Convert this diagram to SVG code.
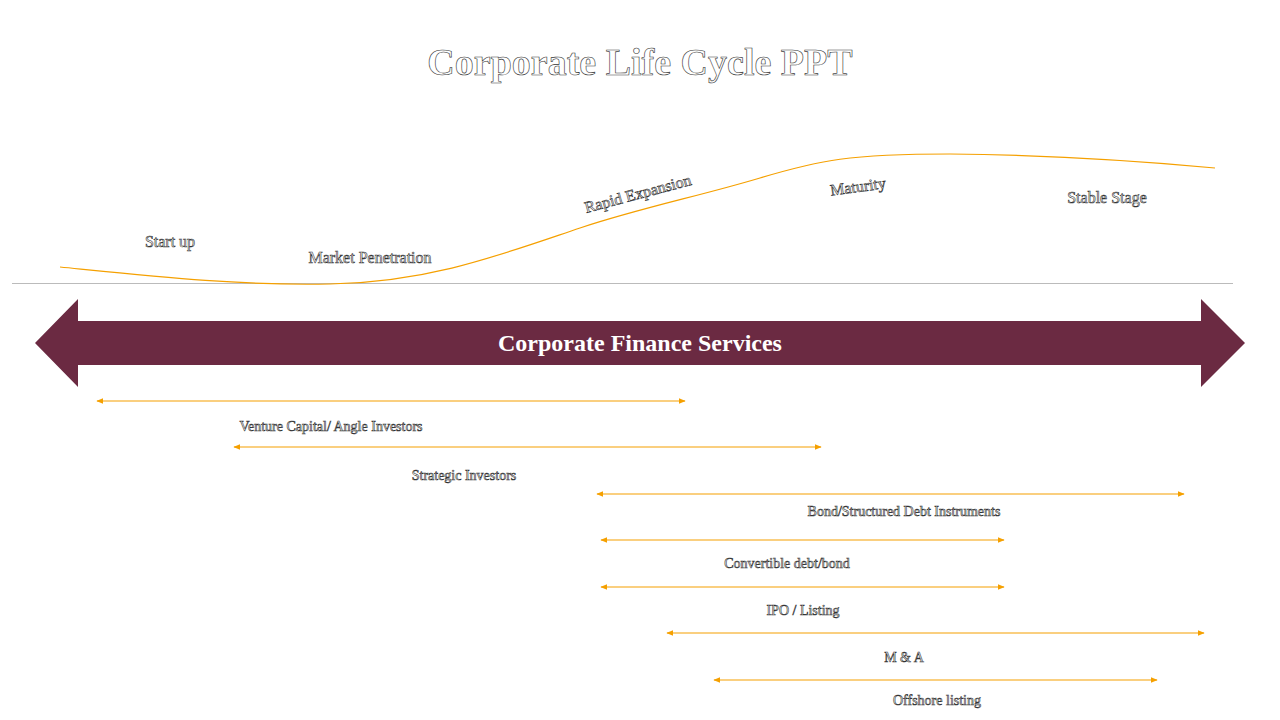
<svg xmlns="http://www.w3.org/2000/svg" width="1280" height="720" viewBox="0 0 1280 720">
<defs>
<marker id="ah" viewBox="0 0 10 10" refX="9" refY="5" markerWidth="7" markerHeight="7" orient="auto-start-reverse" markerUnits="userSpaceOnUse"><path d="M0,1 L10,5 L0,9 z" fill="#F5A000"/></marker>
<style>
.o{font-family:"Liberation Serif","DejaVu Serif",serif;fill:#fff;stroke:#333;stroke-width:0.6;text-anchor:middle}
.s{font-size:16px}
.c{stroke:#F5A000;stroke-width:1.2;fill:none}
</style>
</defs>
<rect width="1280" height="720" fill="#fff"/>
<text class="o" x="640" y="75" font-size="38" font-weight="bold" stroke-width="0.9">Corporate Life Cycle PPT</text>
<line x1="12" y1="283.5" x2="1233" y2="283.5" stroke="#BBBBBB" stroke-width="1"/>
<path class="c" d="M60,267 C150,276 240,286 330,284 C430,282 500,255 580,228 C640,208 700,196 760,178 C820,160 850,154 950,154 C1050,155 1150,162 1215,168"/>
<g id="n-startup"><text class="o s" x="170" y="247">Start up</text></g>
<g id="n-market"><text class="o s" x="370" y="263">Market Penetration</text></g>
<g id="n-rapid"><text class="o s" x="638" y="199" transform="rotate(-15 638 194)">Rapid Expansion</text></g>
<g id="n-maturity"><text class="o s" x="858" y="192" transform="rotate(-8 858 187)">Maturity</text></g>
<g id="n-stable"><text class="o s" x="1107" y="203">Stable Stage</text></g>
<g id="n-cfs">
<polygon points="35,343 78,299 78,321 1201,321 1201,299 1245,343 1201,387 1201,365 78,365 78,387" fill="#6B2A42"/>
<text x="640" y="351" font-family="Liberation Serif,serif" font-size="24" font-weight="bold" fill="#fff" text-anchor="middle">Corporate Finance Services</text>
</g>
<g id="connectors">
<line class="c" x1="97" y1="401" x2="685" y2="401" marker-start="url(#ah)" marker-end="url(#ah)"/>
<line class="c" x1="234" y1="447" x2="821" y2="447" marker-start="url(#ah)" marker-end="url(#ah)"/>
<line class="c" x1="597" y1="494" x2="1184" y2="494" marker-start="url(#ah)" marker-end="url(#ah)"/>
<line class="c" x1="601" y1="540" x2="1004" y2="540" marker-start="url(#ah)" marker-end="url(#ah)"/>
<line class="c" x1="601" y1="587" x2="1004" y2="587" marker-start="url(#ah)" marker-end="url(#ah)"/>
<line class="c" x1="667" y1="633" x2="1204" y2="633" marker-start="url(#ah)" marker-end="url(#ah)"/>
<line class="c" x1="714" y1="680" x2="1157" y2="680" marker-start="url(#ah)" marker-end="url(#ah)"/>
</g>
<g id="labels" font-size="14">
<text class="o" x="331" y="431">Venture Capital/ Angle Investors</text>
<text class="o" x="464" y="480">Strategic Investors</text>
<text class="o" x="904" y="516">Bond/Structured Debt Instruments</text>
<text class="o" x="787" y="568">Convertible debt/bond</text>
<text class="o" x="803" y="615">IPO / Listing</text>
<text class="o" x="904" y="662">M &amp; A</text>
<text class="o" x="937" y="705">Offshore listing</text>
</g>
</svg>
